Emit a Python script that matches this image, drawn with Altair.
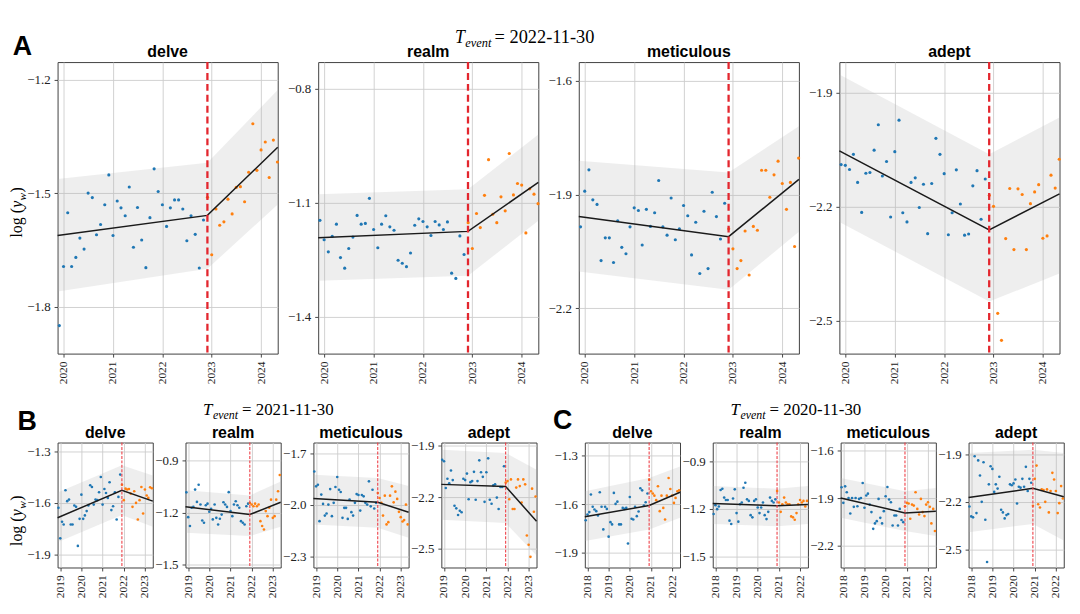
import altair as alt
import pandas as pd

BLUE = "#1f77b4"
ORANGE = "#ff7f0e"
SERIF = "Liberation Serif"
SANS = "Liberation Sans"

# ---------------- data (monthly values; first 36 before event, last 18 after) ----------------
A_delve = [-1.85, -1.694, -1.552, -1.694, -1.670, -1.619, -1.648, -1.500, -1.512, -1.610, -1.583, -1.531,
           -1.452, -1.612, -1.521, -1.539, -1.560, -1.484, -1.643, -1.538, -1.624, -1.697, -1.565, -1.436,
           -1.496, -1.531, -1.588, -1.539, -1.518, -1.518, -1.542, -1.626, -1.560, -1.609, -1.698, -1.571,
           -1.511, -1.663, -1.542, -1.585, -1.576, -1.516, -1.555, -1.485, -1.483, -1.523, -1.445, -1.317,
           -1.440, -1.386, -1.365, -1.459, -1.360, -1.418]
A_realm = [-1.146, -1.197, -1.229, -1.188, -1.156, -1.244, -1.272, -1.220, -1.190, -1.133, -1.156, -1.154,
           -1.088, -1.170, -1.218, -1.156, -1.134, -1.163, -1.172, -1.251, -1.259, -1.268, -1.232, -1.159,
           -1.142, -1.149, -1.163, -1.186, -1.149, -1.158, -1.170, -1.150, -1.285, -1.299, -1.187, -1.236,
           -1.152, -1.220, -1.128, -1.165, -1.080, -0.986, -1.130, -1.152, -1.084, -1.121, -0.970, -1.079,
           -1.049, -1.053, -1.179, -1.063, -1.077, -1.102]
A_meticulous = [-1.985, -1.891, -1.835, -1.914, -1.926, -2.074, -2.014, -2.014, -2.079, -1.969, -2.039, -2.056,
                -1.985, -1.935, -1.942, -2.033, -1.939, -1.984, -1.948, -1.863, -1.985, -2.007, -1.909, -2.019,
                -1.990, -1.929, -1.956, -2.059, -1.973, -2.108, -1.944, -2.095, -1.894, -1.958, -2.017, -1.923,
                -1.990, -2.043, -2.095, -2.074, -1.996, -2.112, -1.984, -1.994, -1.836, -1.836, -1.907, -1.848,
                -1.812, -1.871, -1.939, -1.868, -2.037, -1.804]
A_adept = [-2.089, -2.091, -2.102, -2.062, -2.136, -2.215, -2.112, -2.110, -2.051, -1.984, -2.119, -2.081,
           -2.227, -2.055, -1.972, -2.216, -2.240, -2.136, -2.124, -2.202, -2.141, -2.271, -2.139, -2.020,
           -2.062, -2.113, -2.274, -2.216, -2.103, -2.193, -2.275, -2.272, -2.145, -2.105, -2.233, -2.127,
           -2.170, -2.199, -2.481, -2.552, -2.284, -2.152, -2.313, -2.153, -2.168, -2.313, -2.192, -2.161,
           -2.142, -2.283, -2.277, -2.117, -2.151, -2.075]

B_delve = [-1.629, -1.807, -1.710, -1.726, -1.526, -1.590, -1.581, -1.726, -1.726, -1.615, -1.623, -1.851,
           -1.693, -1.552, -1.693, -1.673, -1.648, -1.615, -1.497, -1.507, -1.610, -1.581, -1.584, -1.538,
           -1.449, -1.610, -1.519, -1.542, -1.571, -1.480, -1.642, -1.620, -1.538, -1.697, -1.565, -1.435,
           -1.494, -1.584, -1.517, -1.522, -1.519, -1.546, -1.623, -1.532, -1.600, -1.697, -1.584, -1.507,
           -1.662, -1.522, -1.557, -1.571, -1.509, -1.515]
B_realm = [-1.082, -1.225, -1.276, -1.171, -1.166, -1.066, -1.137, -1.038, -1.152, -1.244, -1.257, -1.156,
           -1.147, -1.194, -1.177, -1.238, -1.152, -1.229, -1.267, -1.234, -1.210, -1.139, -1.152, -1.166,
           -1.081, -1.190, -1.219, -1.152, -1.133, -1.156, -1.171, -1.248, -1.257, -1.267, -1.162, -1.147,
           -1.143, -1.152, -1.162, -1.147, -1.162, -1.152, -1.248, -1.276, -1.296, -1.190, -1.219, -1.171,
           -1.124, -1.229, -1.219, -1.124, -1.076, -0.982]
B_meticulous = [-1.806, -1.892, -1.883, -2.094, -1.940, -1.994, -2.062, -2.050, -1.998, -1.908, -2.065, -1.988,
                -1.896, -1.838, -1.912, -1.925, -2.075, -2.017, -2.017, -2.081, -1.969, -2.042, -2.062, -1.988,
                -1.937, -1.942, -2.033, -1.942, -1.950, -1.988, -1.998, -1.863, -2.008, -1.912, -2.021, -1.988,
                -1.931, -1.960, -1.988, -2.062, -1.946, -2.113, -2.100, -1.946, -1.892, -1.985, -1.923, -1.965,
                -2.040, -2.071, -2.096, -2.088, -1.998, -2.113]
B_adept = [-1.981, -1.990, -2.146, -2.092, -2.119, -2.044, -2.100, -2.250, -2.265, -2.304, -2.279, -2.288,
           -2.092, -2.100, -2.062, -2.212, -2.112, -2.106, -2.052, -2.215, -2.106, -1.985, -2.054, -2.081,
           -2.227, -2.054, -1.973, -2.215, -2.238, -2.131, -2.125, -2.202, -2.269, -2.140, -2.140, -2.019,
           -2.115, -2.106, -2.212, -2.096, -2.269, -2.269, -2.144, -2.096, -2.135, -2.231, -2.096, -2.125,
           -2.423, -2.477, -2.548, -2.150, -2.285, -2.196]

C_delve = [-1.699, -1.664, -1.649, -1.540, -1.616, -1.633, -1.643, -1.670, -1.526, -1.616, -1.756, -1.616,
           -1.629, -1.801, -1.711, -1.725, -1.530, -1.598, -1.584, -1.725, -1.725, -1.623, -1.629, -1.623,
           -1.843, -1.555, -1.690, -1.695, -1.616, -1.674, -1.645, -1.501, -1.514, -1.608, -1.588, -1.534,
           -1.448, -1.520, -1.534, -1.547, -1.575, -1.489, -1.643, -1.547, -1.623, -1.695, -1.547, -1.438,
           -1.506, -1.547, -1.592, -1.561, -1.520, -1.514]
C_realm = [-1.233, -1.177, -1.202, -1.185, -1.081, -1.073, -1.129, -1.144, -1.144, -1.275, -1.296, -1.135,
           -1.077, -1.227, -1.281, -1.171, -1.160, -1.067, -1.035, -1.140, -1.150, -1.240, -1.254, -1.150,
           -1.140, -1.192, -1.227, -1.192, -1.160, -1.240, -1.265, -1.219, -1.129, -1.150, -1.160, -1.140,
           -1.087, -1.160, -1.219, -1.171, -1.129, -1.160, -1.171, -1.171, -1.248, -1.254, -1.269, -1.227,
           -1.171, -1.144, -1.160, -1.150, -1.185, -1.150]
C_meticulous = [-1.831, -1.929, -1.825, -1.862, -1.898, -1.996, -1.898, -1.954, -1.898, -1.950, -1.904, -1.898,
                -1.804, -1.960, -1.883, -1.871, -1.940, -1.987, -2.092, -2.058, -2.044, -1.904, -2.023, -2.058,
                -1.981, -1.887, -1.829, -1.908, -1.925, -2.071, -2.008, -2.008, -2.071, -1.967, -2.037, -2.050,
                -1.950, -1.929, -1.933, -2.029, -1.940, -1.946, -1.862, -1.967, -2.002, -1.904, -1.987, -2.012,
                -1.940, -1.925, -1.954, -2.058, -1.967, -2.106]
C_adept = [-2.228, -2.291, -2.297, -1.910, -2.270, -1.936, -2.032, -2.199, -1.948, -2.312, -2.580, -2.088,
           -1.973, -1.990, -2.136, -2.088, -2.115, -2.040, -2.249, -2.266, -2.304, -2.283, -2.276, -2.088,
           -2.094, -2.082, -2.057, -2.209, -2.103, -2.109, -2.053, -2.103, -1.977, -2.130, -2.053, -2.078,
           -2.224, -2.053, -1.969, -2.214, -2.235, -2.120, -2.124, -2.199, -2.120, -2.266, -2.130, -2.015,
           -2.057, -2.130, -2.270, -2.207, -2.099, -2.178]

# fitted piecewise trend and band at (left edge, event, right edge): fit, upper, lower
FIT = {
    "A_delve": ([-1.612, -1.559, -1.379], [-1.463, -1.420, -1.228], [-1.760, -1.700, -1.530]),
    "A_realm": ([-1.192, -1.175, -1.046], [-1.077, -1.064, -0.920], [-1.305, -1.292, -1.147]),
    "A_meticulous": ([-1.958, -2.011, -1.860], [-1.811, -1.842, -1.720], [-2.103, -2.151, -1.998]),
    "A_adept": ([-2.053, -2.261, -2.166], [-1.852, -2.062, -1.965], [-2.240, -2.450, -2.376]),
    "B_delve": ([-1.687, -1.526, -1.590], [-1.540, -1.380, -1.440], [-1.830, -1.670, -1.740]),
    "B_realm": ([-1.165, -1.210, -1.139], [-1.070, -1.100, -1.020], [-1.315, -1.334, -1.280]),
    "B_meticulous": ([-1.963, -1.985, -2.042], [-1.825, -1.844, -1.890], [-2.113, -2.133, -2.190]),
    "B_adept": ([-2.125, -2.138, -2.340], [-1.923, -1.942, -2.040], [-2.331, -2.350, -2.540]),
    "C_delve": ([-1.678, -1.608, -1.526], [-1.520, -1.438, -1.366], [-1.828, -1.756, -1.684]),
    "C_realm": ([-1.167, -1.181, -1.173], [-1.056, -1.073, -1.056], [-1.296, -1.310, -1.296]),
    "C_meticulous": ([-1.898, -1.992, -1.981], [-1.773, -1.856, -1.835], [-2.023, -2.106, -2.137]),
    "C_adept": ([-2.172, -2.113, -2.166], [-1.890, -1.869, -1.890], [-2.391, -2.339, -2.444]),
}

ROWS = {
    "A": dict(start="2019-12-01", event="2022-11-30", xdom=("2019-11-18", "2024-05-03"),
              years=[2020, 2021, 2022, 2023, 2024]),
    "B": dict(start="2018-12-01", event="2021-11-30", xdom=("2018-11-16", "2023-05-17"),
              years=[2019, 2020, 2021, 2022, 2023]),
    "C": dict(start="2017-12-01", event="2020-11-30", xdom=("2017-11-16", "2022-05-17"),
              years=[2018, 2019, 2020, 2021, 2022]),
}

YDOM = {
    "A_delve": ([-1.924, -1.154], [-1.8, -1.5, -1.2]),
    "A_realm": ([-1.497, -0.729], [-1.4, -1.1, -0.8]),
    "A_meticulous": ([-2.319, -1.551], [-2.2, -1.9, -1.6]),
    "A_adept": ([-2.587, -1.819], [-2.5, -2.2, -1.9]),
    "B_delve": ([-1.977, -1.248], [-1.9, -1.6, -1.3]),
    "B_realm": ([-1.515, -0.795], [-1.5, -1.2, -0.9]),
    "B_meticulous": ([-2.363, -1.638], [-2.3, -2.0, -1.7]),
    "B_adept": ([-2.610, -1.881], [-2.5, -2.2, -1.9]),
    "C_delve": ([-1.992, -1.218], [-1.9, -1.6, -1.3]),
    "C_realm": ([-1.571, -0.781], [-1.5, -1.2, -0.9]),
    "C_meticulous": ([-2.335, -1.550], [-2.2, -1.9, -1.6]),
    "C_adept": ([-2.615, -1.823], [-2.5, -2.2, -1.9]),
}

VALUES = {
    "A_delve": A_delve, "A_realm": A_realm, "A_meticulous": A_meticulous, "A_adept": A_adept,
    "B_delve": B_delve, "B_realm": B_realm, "B_meticulous": B_meticulous, "B_adept": B_adept,
    "C_delve": C_delve, "C_realm": C_realm, "C_meticulous": C_meticulous, "C_adept": C_adept,
}
WORDS = ["delve", "realm", "meticulous", "adept"]


def dt(s):
    y, m, d = map(int, s.split("-"))
    return alt.DateTime(year=y, month=m, date=d, utc=True)


def txt(t, x, y, size, font=SERIF, weight="normal", style="normal", angle=0, align="left"):
    return alt.Chart(pd.DataFrame({"t": [t]})).mark_text(
        align=align, baseline="alphabetic", font=font, fontSize=size,
        fontWeight=weight, fontStyle=style, angle=angle, color="black"
    ).encode(text="t:N", x=alt.value(x), y=alt.value(y))


def anchor(x, y):
    # invisible layout anchor (fixes the bounding box of a block)
    return alt.Chart(pd.DataFrame({"a": [0]})).mark_rule(opacity=0, strokeWidth=1).encode(
        x=alt.value(x), x2=alt.value(x + 1), y=alt.value(y), y2=alt.value(y))


def panel(row, word, w, h, big, extra=()):
    key = f"{row}_{word}"
    cfg = ROWS[row]
    vals = VALUES[key]
    fit, up, lo = FIT[key]
    ydom, yticks = YDOM[key]
    dates = pd.date_range(cfg["start"], periods=len(vals), freq="MS")
    ev = pd.Timestamp(cfg["event"])
    pts = pd.DataFrame({"date": dates.strftime("%Y-%m-%d"), "v": vals,
                        "grp": ["pre" if d <= ev else "post" for d in dates]})
    knots = pd.DataFrame({"date": [cfg["xdom"][0], cfg["event"], cfg["xdom"][1]],
                          "fit": fit, "up": up, "lo": lo})
    xs = alt.Scale(type="utc", domain=[dt(cfg["xdom"][0]), dt(cfg["xdom"][1])])
    ys = alt.Scale(domain=ydom, nice=False, zero=False)
    xax = alt.Axis(values=[dt(f"{y}-01-01") for y in cfg["years"]], format="%Y", labelAngle=270,
                   title=None, labelFontSize=11.5, labelFlush=False, labelOverlap=False, labelPadding=4)
    yax = alt.Axis(values=yticks, format=".1f", title=None, labelFontSize=13, labelFlush=False,
                   labelOverlap=False, labelPadding=4)
    X = alt.X("date:T", scale=xs, axis=xax)

    band = alt.Chart(knots).mark_area(color="#b0b0b0", opacity=0.22).encode(
        x=X, y=alt.Y("lo:Q", scale=ys, axis=yax), y2="up:Q")
    dots = alt.Chart(pts).mark_circle(size=10 if big else 7, opacity=1).encode(
        x=X, y=alt.Y("v:Q", scale=ys, axis=yax),
        color=alt.Color("grp:N", scale=alt.Scale(domain=["pre", "post"], range=[BLUE, ORANGE]), legend=None))
    fitl = alt.Chart(knots).mark_line(color="#1a1a1a", strokeWidth=1.5).encode(
        x=X, y=alt.Y("fit:Q", scale=ys, axis=yax))
    if big:
        rule = alt.Chart(pd.DataFrame({"date": [cfg["event"]]})).mark_rule(
            color="#e3262e", strokeWidth=2.3, strokeDash=[7, 4]).encode(x=X)
    else:
        rule = alt.Chart(pd.DataFrame({"date": [cfg["event"]]})).mark_rule(
            color="#ee4048", strokeWidth=1.1, strokeDash=[3, 1.5]).encode(x=X)
    title = txt(word, w / 2, -5, 16, font=SANS, weight="bold", align="center")
    return alt.layer(band, dots, fitl, rule, title, *extra).properties(width=w, height=h)


# annotations relative to the first panel of each block
A_extra = [
    anchor(-48.8, -51.5),
    anchor(0, 330),
    txt("A", -45.3, -7, 27, font=SANS, weight="bold"),
    txt("T", 400.7, -19, 18, style="italic"),
    txt("event", 411.2, -15, 12.5, style="italic"),
    txt("= 2022-11-30", 440.7, -19, 18.5),
    txt("log (", -36, 177, 16, angle=270),
    txt("y", -36, 147, 16, style="italic", angle=270),
    txt("w", -32, 139.5, 11.5, style="italic", angle=270),
    txt(")", -36, 131.5, 16, angle=270),
]
B_extra = [
    anchor(-48.8, -50),
    txt("B", -40.3, -12.7, 27, font=SANS, weight="bold"),
    txt("T", 146.7, -27.7, 17, style="italic"),
    txt("event", 156.7, -23.7, 12, style="italic"),
    txt("= 2021-11-30", 186.0, -27.7, 17),
    txt("log (", -36, 104.3, 16, angle=270),
    txt("y", -36, 74.3, 16, style="italic", angle=270),
    txt("w", -32, 66.8, 11.5, style="italic", angle=270),
    txt(")", -36, 58.8, 16, angle=270),
]
B_last_extra = [anchor(97, 0)]
C_extra = [
    anchor(-36, -50),
    txt("C", -32, -13.7, 27, font=SANS, weight="bold"),
    txt("T", 147, -27.7, 17, style="italic"),
    txt("event", 157, -23.7, 12, style="italic"),
    txt("= 2020-11-30", 186.3, -27.7, 17),
]

top = alt.hconcat(*[panel("A", wd, 222, 294, True, A_extra if i == 0 else ())
                    for i, wd in enumerate(WORDS)], spacing=40.8, bounds="flush")
rowB = alt.hconcat(*[panel("B", wd, 96, 126, False,
                           B_extra if i == 0 else (B_last_extra if i == 3 else ()))
                     for i, wd in enumerate(WORDS)], spacing=33, bounds="flush")
rowC = alt.hconcat(*[panel("C", wd, 96, 126, False, C_extra if i == 0 else ())
                     for i, wd in enumerate(WORDS)], spacing=33, bounds="flush")
bottom = alt.hconcat(rowB, rowC, spacing=7.7)

chart = alt.vconcat(top, bottom, spacing=1.7).properties(
    padding={"left": 0, "top": 0, "right": 4, "bottom": 4}
).configure_view(
    stroke="#404040", strokeWidth=1
).configure_axis(
    domain=False, gridColor="#cdcdcd", gridWidth=0.9, tickColor="#333333", tickSize=3.5,
    tickWidth=0.9, labelFont=SERIF, labelColor="#222222"
)

chart.save("out.html", embed_options={"renderer": "svg", "actions": False})
